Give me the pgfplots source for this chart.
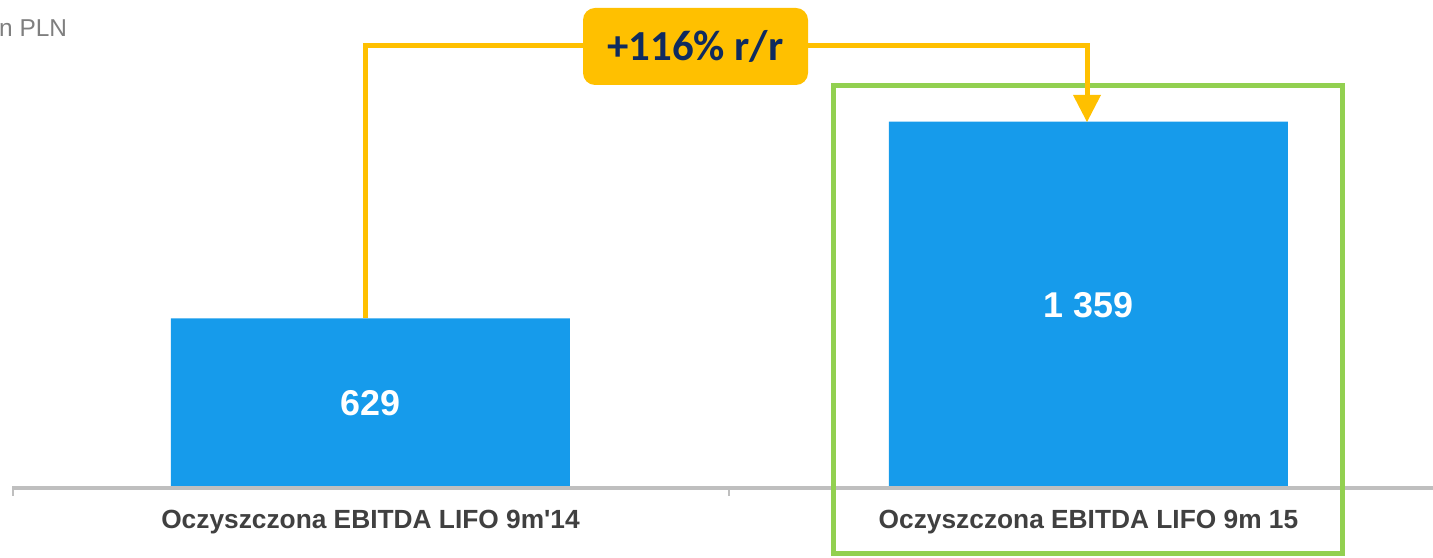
\documentclass[border=0pt]{standalone}
\usepackage{pgfplots}
\pgfplotsset{compat=1.18}
\usepackage{fontspec}
\setmainfont{Liberation Sans}[Ligatures=TeXOff]
\newfontfamily\calibri{Carlito}
\definecolor{barblue}{HTML}{169BEB}
\definecolor{gold}{HTML}{FFC000}
\definecolor{navy}{HTML}{0F2B5F}
\definecolor{boxgreen}{HTML}{92D050}
\definecolor{axgray}{HTML}{BFBFBF}
\definecolor{lblgray}{HTML}{404040}
\definecolor{unitgray}{HTML}{7F7F7F}

\begin{document}
\begin{tikzpicture}
\begin{axis}[
    name=ax,
    at={(0,0)}, anchor=south west,
    scale only axis,
    width=1433bp, height=558bp,
    xmin=-0.51602, xmax=1.47981,
    ymin=-259.74, ymax=1810.76,
    axis line style={draw=none},
    ytick=\empty,
    xtick={0,1},
    xticklabels={Oczyszczona EBITDA LIFO 9m'14, Oczyszczona EBITDA LIFO 9m 15},
    major tick length=0pt,
    xticklabel style={font=\fontsize{26.4}{30}\selectfont\bfseries, text=lblgray, anchor=center, yshift=36bp},
    ybar, bar width=399bp, bar shift=0pt,
    clip=false,
    point meta=explicit symbolic,
    visualization depends on={y \as \rawy},
    nodes near coords,
    every node near coord/.append style={anchor=center, text=white,
        font=\fontsize{36}{40}\selectfont\bfseries,
        shift={(axis direction cs:0,-\rawy/2)}},
]
\addplot[fill=barblue, draw=none] coordinates {(0,629) [629] (1,1359) [1 359]};
\end{axis}

% baseline and category separators
\draw[axgray, line width=4bp] (12bp,70bp) -- (1440bp,70bp);
\draw[axgray, line width=2bp] (13bp,70bp) -- (13bp,62bp);
\draw[axgray, line width=2bp] (729bp,70bp) -- (729bp,62bp);

% highlight frame
\draw[boxgreen, line width=5bp] (833.5bp,4.5bp) rectangle (1342.5bp,472.5bp);

% unit
\node[anchor=base west, inner sep=0pt, font=\fontsize{24.5}{28}\selectfont, text=unitgray]
    at (-1bp,521bp) {n PLN};

% growth arrow
\draw[gold, line width=5bp] (365bp,240bp) -- (365bp,512bp) -- (1087bp,512bp) -- (1087bp,460bp);
\fill[gold] (1073bp,463bp) -- (1101bp,463bp) -- (1087bp,436bp) -- cycle;
\node[fill=gold, rounded corners=12bp, minimum width=225bp, minimum height=77bp,
      font=\calibri\bfseries\fontsize{43}{48}\selectfont, text=navy]
    at (695.5bp,511.5bp) {+116\% r/r};

\pgfresetboundingbox
\useasboundingbox (0,0) rectangle (1433bp,558bp);
\end{tikzpicture}
\end{document}
